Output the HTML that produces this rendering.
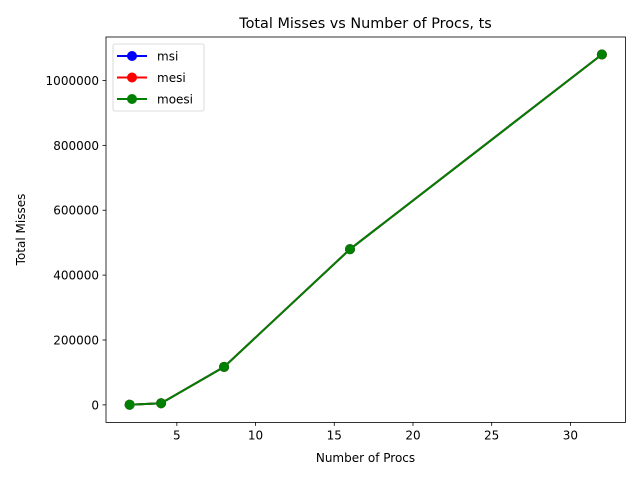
<!DOCTYPE html>
<html><head><meta charset="utf-8"><style>
body{margin:0;background:#fff}
svg text{font-family:"DejaVu Sans","Liberation Sans",sans-serif;fill:#000}
</style></head><body>
<svg id="chart" width="640" height="480" xmlns="http://www.w3.org/2000/svg">
<rect width="640" height="480" fill="#fff"/>
<text x="365.5" y="28" font-size="14.4" text-anchor="middle">Total Misses vs Number of Procs, ts</text>
<g id="plot"></g>
<text x="365.5" y="462" font-size="12" text-anchor="middle">Number of Procs</text>
<text transform="translate(25,229.5) rotate(-90)" font-size="12" text-anchor="middle">Total Misses</text>
</svg>
<script>
const procs=[2,4,8,16,32];
const msi=[500,5000,117000,480000,1080000];
const mesi=[500,5000,117000,480000,1080000];
const moesi=[500,5000,117000,480000,1080000];
const xTicks=[5,10,15,20,25,30];
const yTicks=[0,200000,400000,600000,800000,1000000];
const seriesNames=['msi','mesi','moesi'];
const seriesColors=['#0000ff','#ff0000','#008000'];
const L=106,R=625.5,T=37,B=422.4;
const xmin=0.5,xmax=33.5,ymin=-54000,ymax=1134000;
const X=v=>L+(v-xmin)/(xmax-xmin)*(R-L);
const Y=v=>B-(v-ymin)/(ymax-ymin)*(B-T);
const ns='http://www.w3.org/2000/svg';
const g=document.getElementById('plot');
function mk(t,a,p){const e=document.createElementNS(ns,t);for(const k in a)e.setAttribute(k,a[k]);(p||g).appendChild(e);return e;}
xTicks.forEach(v=>{
 const l=mk('line',{x1:X(v),x2:X(v),y1:B,y2:B+3.5,stroke:'#000','stroke-width':0.8});
 
 
 const t=mk('text',{x:X(v),y:B+17,'font-size':12,'text-anchor':'middle'});t.textContent=v;
 
 
});
yTicks.forEach(v=>{
 const l=mk('line',{x1:L-3.5,x2:L,y1:Y(v),y2:Y(v),stroke:'#000','stroke-width':0.8});
 
 
 const t=mk('text',{x:L-7,y:Y(v)+4.5,'font-size':12,'text-anchor':'end'});t.textContent=v;
 
 
});
[msi,mesi,moesi].forEach((s,i)=>{
 const pl=mk('polyline',{points:procs.map((p,j)=>X(p)+','+Y(s[j])).join(' '),fill:'none',stroke:seriesColors[i],'stroke-width':2});
 
 
 procs.forEach((p,j)=>{
  const c=mk('circle',{cx:X(p),cy:Y(s[j]),r:5,fill:seriesColors[i]});
  
  
 });
});
const fr=mk('rect',{x:L,y:T,width:R-L,height:B-T,fill:'none',stroke:'#000','stroke-width':0.8});


const lg=mk('g',{});


mk('rect',{x:113,y:44,width:91,height:67,rx:2,fill:'#fff',stroke:'#ccc','stroke-width':0.8,opacity:0.9},lg);
seriesNames.forEach((n,i)=>{
 const y=56+i*21.5;
 const e=mk('g',{},lg);
 
 
 mk('line',{x1:117,x2:147,y1:y,y2:y,stroke:seriesColors[i],'stroke-width':2},e);
 mk('circle',{cx:132,cy:y,r:5,fill:seriesColors[i]},e);
 const t=mk('text',{x:157,y:y+4.5,'font-size':12},e);t.textContent=n;
});
</script>
</body></html>
